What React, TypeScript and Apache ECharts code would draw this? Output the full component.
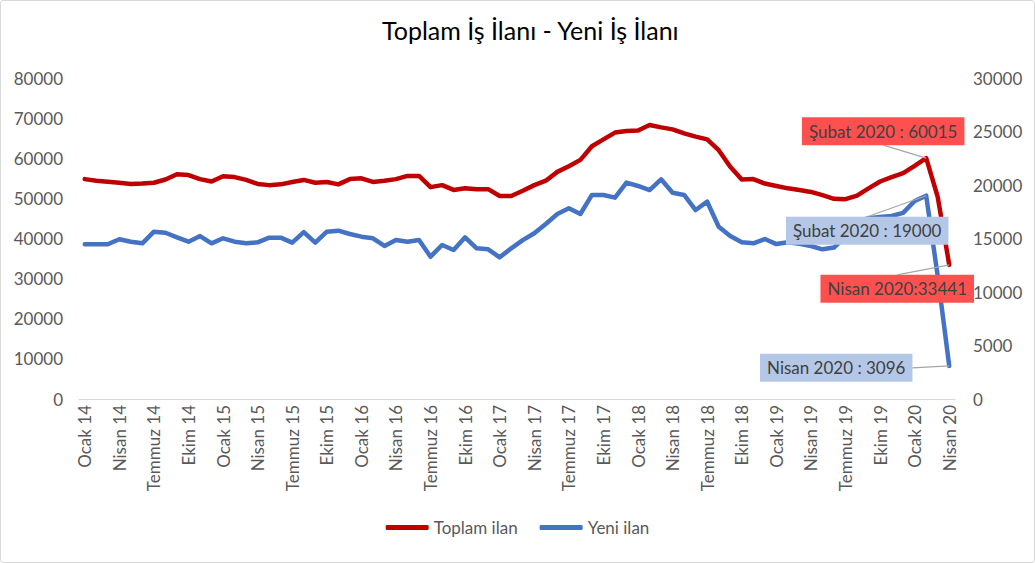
import React, { useEffect, useRef } from "react";
import * as echarts from "echarts";

const monthNames = ["Ocak", "Şubat", "Mart", "Nisan", "Mayıs", "Haziran", "Temmuz", "Ağustos", "Eylül", "Ekim", "Kasım", "Aralık"];
const years = ["14", "15", "16", "17", "18", "19", "20"];
const lastMonthCount = 4; // 2020: Ocak..Nisan

const categories: string[] = [];
years.forEach((y, yi) => {
  const n = yi === years.length - 1 ? lastMonthCount : 12;
  for (let m = 0; m < n; m++) categories.push(`${monthNames[m]} ${y}`);
});

const toplamIlan = [
  54800, 54400, 54150, 53900, 53600, 53700, 53900, 54700, 56000, 55800, 54800, 54200,
  55500, 55300, 54600, 53600, 53300, 53500, 54100, 54600, 53900, 54100, 53500, 54800,
  55000, 54100, 54400, 54800, 55600, 55600, 52800, 53300, 52100, 52500, 52300, 52300,
  50600, 50600, 51900, 53300, 54400, 56600, 58000, 59600, 63000, 64700, 66400, 66800,
  66900, 68300, 67700, 67200, 66200, 65400, 64700, 62000, 57900, 54700, 54800, 53700,
  53100, 52500, 52100, 51600, 50800, 49900, 49800, 50700, 52500, 54200, 55300, 56300,
  58100, 60015, 50400, 33441,
];

const yeniIlan = [
  14460, 14460, 14460, 14930, 14700, 14550, 15640, 15540, 15110, 14700, 15230, 14550,
  15020, 14700, 14550, 14640, 15080, 15080, 14610, 15600, 14610, 15640, 15730, 15420,
  15170, 15020, 14300, 14860, 14700, 14860, 13300, 14390, 13930, 15110, 14080, 13990,
  13240, 14080, 14850, 15490, 16360, 17290, 17820, 17290, 19070, 19070, 18820, 20220,
  19910, 19530, 20530, 19280, 19070, 17660, 18440, 16100, 15230, 14650, 14550, 14950,
  14480, 14650, 14500, 14300, 13990, 14150, 15200, 16600, 16900, 17000, 17100, 17400,
  18500, 19000, 11500, 3096,
];

const leftTicks = { min: 0, max: 80000, interval: 10000 };
const rightTicks = { min: 0, max: 30000, interval: 5000 };

// annotated points: [seriesIndex, dataIndex, separator, boxColor, dx, dy]
const annotations: [number, number, string, string, number, number][] = [
  [0, 73, " : ", "#FF5050", -43, -27],
  [0, 75, ":", "#FF5050", -52, 24],
  [1, 73, " : ", "#B4C7E7", -59, 35],
  [1, 75, " : ", "#B4C7E7", -113, 2],
];

const FONT = "Lato, 'Noto Sans', sans-serif";

function buildData(values: number[], seriesIndex: number) {
  return values.map((v, i) => {
    const ann = annotations.find((a) => a[0] === seriesIndex && a[1] === i);
    if (!ann) return v;
    const sep = ann[2];
    return {
      value: v,
      symbol: "circle",
      symbolSize: 2,
      label: {
        show: true,
        formatter: (p: any) => {
          const [m] = String(p.name).split(" ");
          return `${m} 2020${sep}${p.value}`;
        },
        backgroundColor: ann[3],
        color: "#404040",
        fontFamily: FONT,
        fontSize: 17,
        padding: [6, 7, 5, 7],
      },
    };
  });
}

export default function App() {
  const ref = useRef<HTMLDivElement>(null);
  useEffect(() => {
    if (!ref.current) return;
    const chart = echarts.init(ref.current, undefined, { renderer: "svg" });
    const leaders: Record<string, number[]> = {};
    const labelLayout = (seriesIndex: number) => (params: any) => {
      const ann = annotations.find((a) => a[0] === seriesIndex && a[1] === params.dataIndex);
      if (!ann) return {};
      const r = params.rect;
      const px = r.x + r.width / 2;
      const py = r.y + r.height / 2;
      const cx = px + ann[4];
      const cy = py + ann[5];
      const w = params.labelRect.width;
      const h = params.labelRect.height;
      let ax = cx;
      let ay = cy;
      if (py > cy + h / 2) ay = cy + h / 2;
      else if (py < cy - h / 2) ay = cy - h / 2;
      else if (px > cx) ax = cx + w / 2;
      else ax = cx - w / 2;
      leaders[`${seriesIndex}-${params.dataIndex}`] = [px, py, ax, ay];
      return { x: cx, y: cy, align: "center", verticalAlign: "middle" };
    };
    const plainNum = (v: number) => String(v);
    chart.setOption({
      animation: false,
      backgroundColor: "#ffffff",
      title: {
        text: "Toplam İş İlanı - Yeni İş İlanı",
        left: 382,
        top: 17,
        padding: 0,
        textStyle: { fontFamily: FONT, fontSize: 25, fontWeight: "normal", color: "#000000" },
      },
      legend: {
        bottom: 22,
        left: "center",
        icon: "roundRect",
        itemWidth: 43,
        itemHeight: 5,
        itemGap: 22,
        textStyle: { fontFamily: FONT, fontSize: 17, color: "#595959" },
        data: ["Toplam ilan", "Yeni ilan"],
      },
      grid: { left: 79, right: 80, top: 78, bottom: 164 },
      xAxis: {
        type: "category",
        data: categories,
        boundaryGap: true,
        axisLine: { lineStyle: { color: "#d9d9d9", width: 1 } },
        axisTick: { interval: 2, length: 5, lineStyle: { color: "#d9d9d9" } },
        axisLabel: {
          interval: 2,
          rotate: 90,
          margin: 6,
          fontFamily: FONT,
          fontSize: 17,
          color: "#595959",
        },
        splitLine: { show: false },
      },
      yAxis: [
        {
          type: "value",
          ...leftTicks,
          axisLine: { show: false },
          axisTick: { show: false },
          splitLine: { show: false },
          axisLabel: { fontFamily: FONT, fontSize: 17, color: "#595959", margin: 16, formatter: plainNum },
        },
        {
          type: "value",
          ...rightTicks,
          position: "right",
          axisLine: { show: false },
          axisTick: { show: false },
          splitLine: { show: false },
          axisLabel: { fontFamily: FONT, fontSize: 17, color: "#595959", margin: 18, formatter: plainNum },
        },
      ],
      series: [
        {
          name: "Toplam ilan",
          type: "line",
          yAxisIndex: 0,
          data: buildData(toplamIlan, 0),
          symbol: "none",
          showSymbol: true,
          showAllSymbol: true,
          color: "#C00000",
          itemStyle: { color: "#C00000" },
          lineStyle: { color: "#C00000", width: 4.5, cap: "round", join: "round" },
          labelLine: { show: false },
          labelLayout: labelLayout(0),
          z: 2,
        },
        {
          name: "Yeni ilan",
          type: "line",
          yAxisIndex: 1,
          data: buildData(yeniIlan, 1),
          symbol: "none",
          showSymbol: true,
          showAllSymbol: true,
          color: "#4472C4",
          itemStyle: { color: "#4472C4" },
          lineStyle: { color: "#4472C4", width: 4.5, cap: "round", join: "round" },
          labelLine: { show: false },
          labelLayout: labelLayout(1),
          z: 2,
        },
      ],
    });
    const lines = Object.keys(leaders).map((k) => {
      const [x1, y1, x2, y2] = leaders[k];
      return {
        type: "line",
        z: 5,
        silent: true,
        shape: { x1, y1, x2, y2 },
        style: { stroke: "#a6a6a6", lineWidth: 1.2 },
      };
    });
    chart.setOption({ graphic: lines });
    return () => chart.dispose();
  }, []);
  return (
    <div style={{ position: "absolute", left: 0, top: 0, width: 1035, height: 563, background: "#fff" }}>
      <div ref={ref} style={{ width: 1035, height: 563 }} />
      <div
        style={{
          position: "absolute",
          left: 0,
          top: 0,
          width: 1035,
          height: 563,
          boxSizing: "border-box",
          border: "1px solid #d9d9d9",
          borderRadius: 3,
          pointerEvents: "none",
        }}
      />
    </div>
  );
}
